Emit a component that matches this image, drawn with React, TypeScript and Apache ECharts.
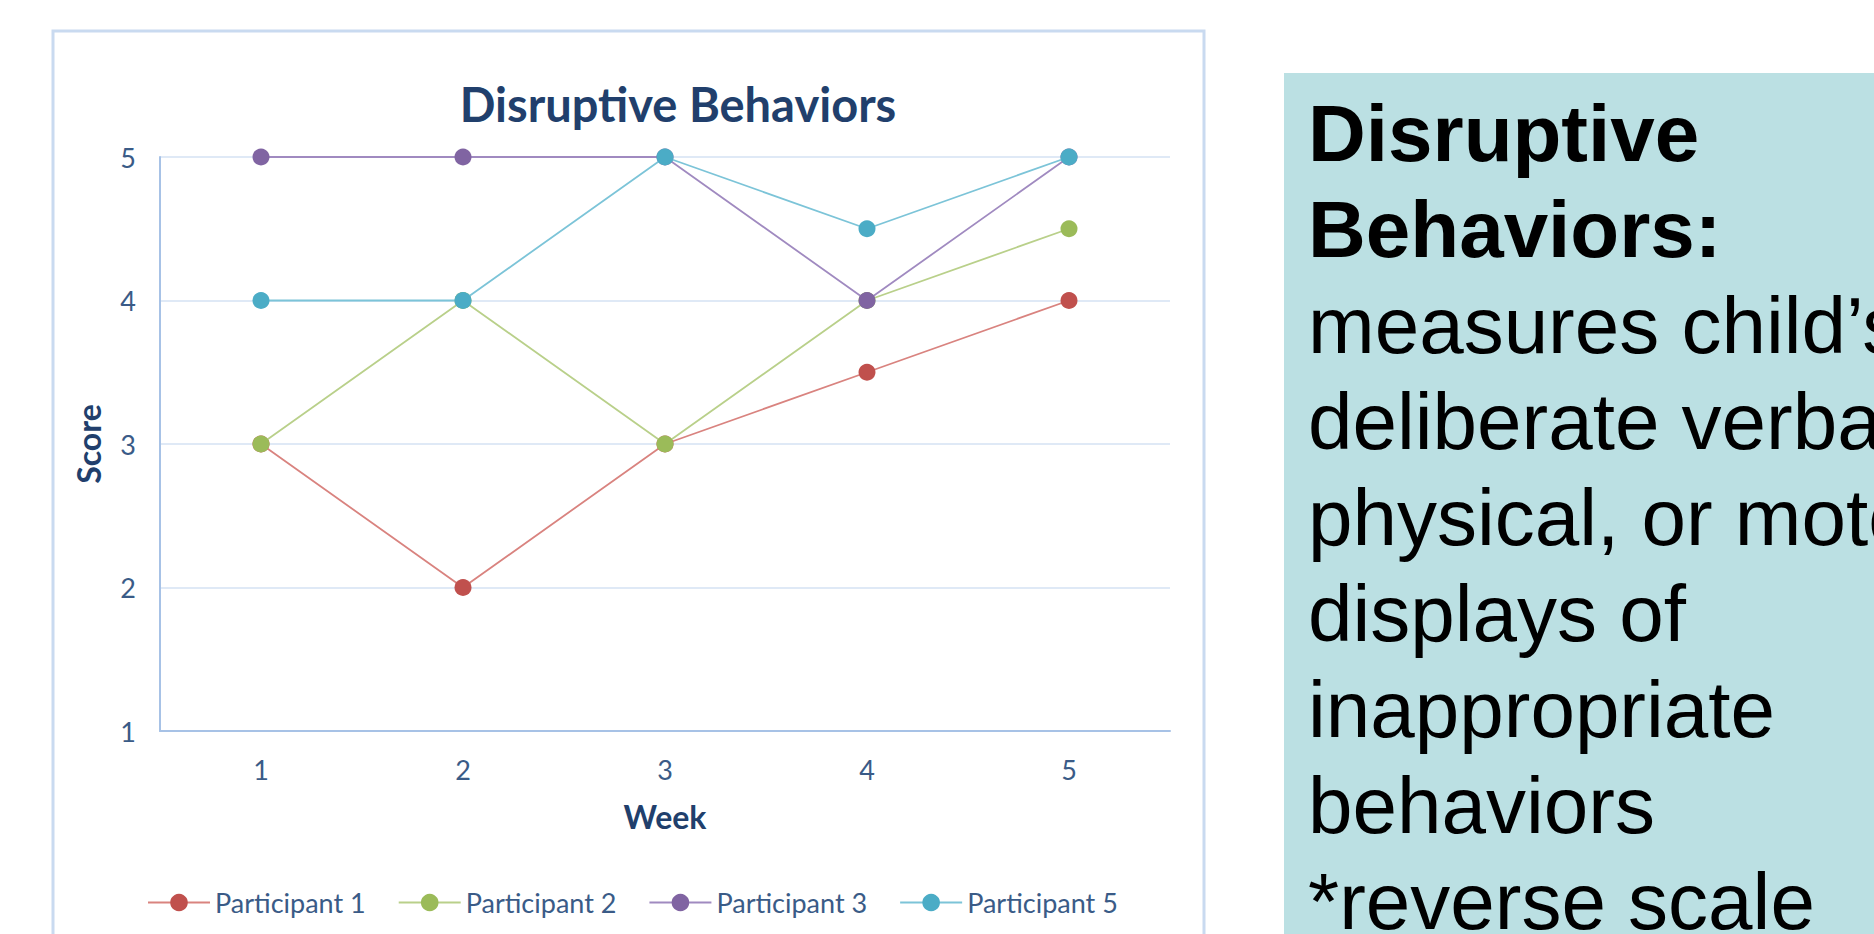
import React, { useEffect, useRef } from "react";
import * as echarts from "echarts";

const weeks = ["1", "2", "3", "4", "5"];
const seriesNames = ["Participant 1", "Participant 2", "Participant 3", "Participant 5"];
const participant1 = [3, 2, 3, 3.5, 4];
const participant2 = [3, 4, 3, 4, 4.5];
const participant3 = [5, 5, 5, 4, 5];
const participant5 = [4, 4, 5, 4.5, 5];
const seriesColors = ["#C0504D", "#9BBB59", "#8064A2", "#4BACC6"];
const lineColors = ["#D9837F", "#B9D08A", "#A08AC0", "#7CC4D8"];
const yMin = 1;
const yMax = 5;
const chartTitle = "Disruptive Behaviors";
const xAxisName = "Week";
const yAxisName = "Score";
const noteLines = [
  { text: "Disruptive", bold: true },
  { text: "Behaviors:", bold: true },
  { text: "measures child’s", bold: false },
  { text: "deliberate verbal,", bold: false },
  { text: "physical, or motor", bold: false },
  { text: "displays of", bold: false },
  { text: "inappropriate", bold: false },
  { text: "behaviors", bold: false },
  { text: "*reverse scale", bold: false },
];

const FONT = "Lato, 'Open Sans', sans-serif";
const LABEL_COLOR = "#3A5B87";
const TITLE_COLOR = "#213F6C";

export default function App() {
  const ref = useRef<HTMLDivElement>(null);

  useEffect(() => {
    if (!ref.current) return;
    const chart = echarts.init(ref.current, null, { renderer: "svg" });
    const allData = [participant1, participant2, participant3, participant5];

    const noteTexts = noteLines.map((l, i) => ({
      type: "text",
      x: 1308,
      y: 133 + i * 96,
      z: 10,
      style: {
        text: l.text,
        fill: "#000000",
        font: `${l.bold ? "bold " : ""}80px 'Liberation Sans', Arial, sans-serif`,
        verticalAlign: "middle",
        align: "left",
      },
    }));

    chart.setOption({
      animation: false,
      backgroundColor: "#ffffff",
      graphic: [
        {
          type: "rect",
          z: -10,
          shape: { x: 53, y: 31, width: 1151, height: 960 },
          style: { fill: "#ffffff", stroke: "#C9DAF0", lineWidth: 3 },
        },
        {
          type: "rect",
          z: 5,
          shape: { x: 1284, y: 73, width: 600, height: 900 },
          style: { fill: "#BBE0E3" },
        },
        {
          type: "text",
          x: 678,
          y: 104,
          z: 10,
          style: {
            text: chartTitle,
            fill: TITLE_COLOR,
            font: `bold 47px ${FONT}`,
            align: "center",
            verticalAlign: "middle",
          },
        },
        ...noteTexts,
      ],
      grid: { left: 160, top: 157, width: 1010, height: 574, containLabel: false },
      legend: {
        left: 142,
        top: 884,
        itemWidth: 62,
        itemHeight: 22,
        itemGap: 32,
        textStyle: { color: LABEL_COLOR, fontSize: 27, fontFamily: FONT },
        data: seriesNames,
      },
      xAxis: {
        type: "category",
        data: weeks,
        boundaryGap: true,
        name: xAxisName,
        nameLocation: "middle",
        nameGap: 69,
        nameTextStyle: { color: TITLE_COLOR, fontSize: 32, fontWeight: "bold", fontFamily: FONT },
        axisLine: { lineStyle: { color: "#A7C2E6", width: 2 } },
        axisTick: { show: false },
        axisLabel: { color: LABEL_COLOR, fontSize: 27, fontFamily: FONT, margin: 25 },
        splitLine: { show: false },
      },
      yAxis: {
        type: "value",
        min: yMin,
        max: yMax,
        interval: 1,
        name: yAxisName,
        nameLocation: "middle",
        nameGap: 56,
        nameRotate: 90,
        nameTextStyle: { color: TITLE_COLOR, fontSize: 32, fontWeight: "bold", fontFamily: FONT },
        axisLine: { show: true, lineStyle: { color: "#A7C2E6", width: 2 } },
        axisTick: { show: false },
        axisLabel: { color: LABEL_COLOR, fontSize: 27, fontFamily: FONT, margin: 24 },
        splitLine: { show: true, lineStyle: { color: "#D5E2F3", width: 1.5 } },
      },
      series: seriesNames.map((name, i) => ({
        name,
        type: "line",
        data: allData[i],
        symbol: "circle",
        symbolSize: 17,
        itemStyle: { color: seriesColors[i] },
        lineStyle: { color: lineColors[i], width: 1.8 },
        z: 2 + i,
      })),
    });

    return () => chart.dispose();
  }, []);

  return (
    <div
      ref={ref}
      style={{ position: "fixed", left: 0, top: 0, width: 1874, height: 934 }}
    />
  );
}
